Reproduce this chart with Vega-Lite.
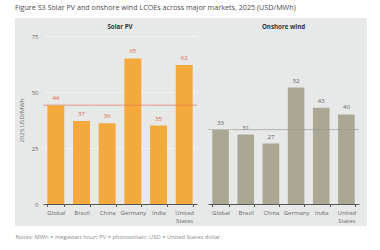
{
  "$schema": "https://vega.github.io/schema/vega-lite/v6.json",
  "width": 352,
  "height": 208,
  "padding": {"left": 15, "top": 3, "right": 13, "bottom": 4},
  "background": "white",
  "title": {
    "text": "Figure S3  Solar PV and onshore wind LCOEs across major markets, 2025 (USD/MWh)",
    "anchor": "start",
    "font": "Open Sans",
    "fontSize": 7.2,
    "fontWeight": "normal",
    "color": "#4a4a4a",
    "offset": 7
  },
  "config": {
    "view": {"fill": "#e7e8e8", "stroke": null},
    "font": "Open Sans",
    "axis": {
      "labelFont": "Open Sans",
      "titleFont": "Open Sans",
      "labelColor": "#6b6b6b",
      "titleColor": "#6b6b6b",
      "labelFontSize": 6,
      "titleFontSize": 6,
      "titleFontWeight": "normal"
    }
  },
  "datasets": {
    "solar": [
      {"market": "Global", "lcoe": 44},
      {"market": "Brazil", "lcoe": 37},
      {"market": "China", "lcoe": 36},
      {"market": "Germany", "lcoe": 65},
      {"market": "India", "lcoe": 35},
      {"market": "United States", "lcoe": 62}
    ],
    "wind": [
      {"market": "Global", "lcoe": 33},
      {"market": "Brazil", "lcoe": 31},
      {"market": "China", "lcoe": 27},
      {"market": "Germany", "lcoe": 52},
      {"market": "India", "lcoe": 43},
      {"market": "United States", "lcoe": 40}
    ]
  },
  "resolve": {"scale": {"x": "independent"}, "axis": {"x": "independent"}},
  "layer": [
    {
      "data": {"name": "solar"},
      "encoding": {
        "x": {
          "field": "market",
          "type": "nominal",
          "sort": null,
          "scale": {"range": [28, 182], "paddingInner": 0.34, "paddingOuter": 0.17},
          "axis": {
            "orient": "bottom",
            "offset": -22,
            "labelAngle": 0,
            "labelPadding": 3,
            "labelExpr": "datum.label == 'United States' ? ['United', 'States'] : datum.label",
            "tickBand": "extent",
            "tickSize": 2.5,
            "tickColor": "#555555",
            "domainColor": "#555555",
            "title": "Notes: MWh = megawatt hour; PV = photovoltaic; USD = United States dollar.",
            "titleFontSize": 5.8,
            "titleColor": "#8a8a8a",
            "titleAnchor": "start",
            "titleAlign": "left",
            "titleBaseline": "middle",
            "titleX": 0,
            "titleY": 32
          }
        },
        "y": {
          "field": "lcoe",
          "type": "quantitative",
          "scale": {"domain": [0, 75], "range": [186, 18], "nice": false},
          "axis": {
            "values": [0, 25, 50, 75],
            "offset": -28,
            "domain": false,
            "ticks": false,
            "labelPadding": 5,
            "gridColor": "#f3f3f3",
            "gridWidth": 1,
            "title": "2025 USD/MWh",
            "titlePadding": 7
          }
        }
      },
      "layer": [
        {"mark": {"type": "bar", "color": "#f4a93c"}},
        {
          "mark": {"type": "text", "dy": -4, "baseline": "bottom", "fontSize": 6, "color": "#e2673d"},
          "encoding": {"text": {"field": "lcoe", "type": "quantitative"}}
        },
        {
          "mark": {"type": "bar", "fill": "#e4725a", "width": {"band": 1.52}},
          "encoding": {"y": {"datum": 44}, "y2": {"datum": 44.3}}
        },
        {
          "transform": [{"filter": "datum.market == 'China'"}],
          "mark": {"type": "text", "fontSize": 6.2, "fontWeight": "bold", "color": "#333333"},
          "encoding": {
            "x": {"field": "market", "type": "nominal", "bandPosition": 1.26},
            "y": {"datum": 79},
            "text": {"value": "Solar PV"}
          }
        }
      ]
    },
    {
      "data": {"name": "wind"},
      "encoding": {
        "x": {
          "field": "market",
          "type": "nominal",
          "sort": null,
          "scale": {"range": [193, 344], "paddingInner": 0.34, "paddingOuter": 0.17},
          "axis": {
            "orient": "bottom",
            "offset": -22,
            "labelAngle": 0,
            "labelPadding": 3,
            "labelExpr": "datum.label == 'United States' ? ['United', 'States'] : datum.label",
            "tickBand": "extent",
            "tickSize": 2.5,
            "tickColor": "#555555",
            "domainColor": "#555555",
            "title": null
          }
        },
        "y": {"field": "lcoe", "type": "quantitative"}
      },
      "layer": [
        {"mark": {"type": "bar", "color": "#aaa893"}},
        {
          "mark": {"type": "text", "dy": -4, "baseline": "bottom", "fontSize": 6, "color": "#666666"},
          "encoding": {"text": {"field": "lcoe", "type": "quantitative"}}
        },
        {
          "mark": {"type": "bar", "fill": "#9a9a93", "width": {"band": 1.52}},
          "encoding": {"y": {"datum": 33}, "y2": {"datum": 33.3}}
        },
        {
          "transform": [{"filter": "datum.market == 'China'"}],
          "mark": {"type": "text", "fontSize": 6.2, "fontWeight": "bold", "color": "#333333"},
          "encoding": {
            "x": {"field": "market", "type": "nominal", "bandPosition": 1.26},
            "y": {"datum": 79},
            "text": {"value": "Onshore wind"}
          }
        }
      ]
    }
  ]
}
